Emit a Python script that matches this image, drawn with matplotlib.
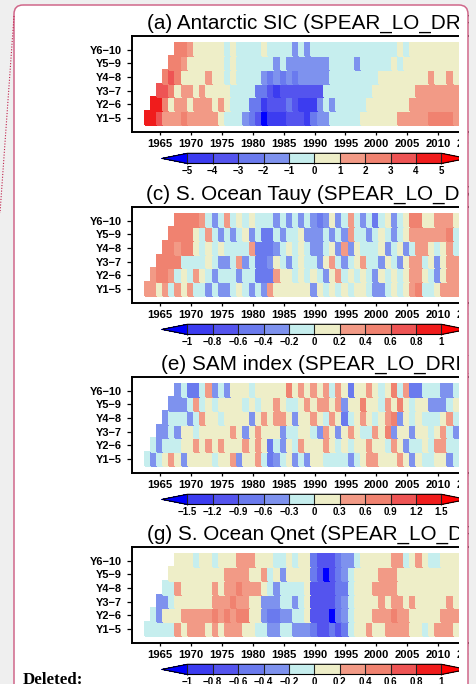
import matplotlib
matplotlib.use("Agg")
import matplotlib.pyplot as plt
import numpy as np
from matplotlib.colors import ListedColormap, BoundaryNorm
from matplotlib.patches import FancyBboxPatch, Rectangle

plt.rcParams["font.family"] = ["Liberation Sans", "DejaVu Sans"]

# ---------------------------------------------------------------- data
row_labels = ["Y1\u22125", "Y2\u22126", "Y3\u22127", "Y4\u22128", "Y5\u22129", "Y6\u221210"]
row_start = [1963, 1964, 1965, 1966, 1967, 1968]
year_ticks = list(range(1965, 2021, 5))

titles = [
    "(a) Antarctic SIC (SPEAR_LO_DRF)",
    "(c) S. Ocean Tauy (SPEAR_LO_DRF)",
    "(e) SAM index (SPEAR_LO_DRF)",
    "(g) S. Ocean Qnet (SPEAR_LO_DRF)",
]

sic_levels = [-5, -4, -3, -2, -1, 0, 1, 2, 3, 4, 5]
tauy_levels = [-1, -0.8, -0.6, -0.4, -0.2, 0, 0.2, 0.4, 0.6, 0.8, 1]
sam_levels = [-1.5, -1.2, -0.9, -0.6, -0.3, 0, 0.3, 0.6, 0.9, 1.2, 1.5]
qnet_levels = [-1, -0.8, -0.6, -0.4, -0.2, 0, 0.2, 0.4, 0.6, 0.8, 1]

# Antarctic SIC, rows Y1-5 ... Y6-10 (each row starts at row_start)
sic_y1 = [4.5, 4.5, 3.5, 1.5, 1.5, 1.5, 2.5, 1.5, 1.5, 1.5, 1.5, 1.5, 0.5, -0.5, -0.5, -0.5, -1.5,
          -2.5, -3.5, -5.5, -4.5, -4.5, -4.5, -3.5, -3.5, -3.5, -4.5, -2.5, -1.5, -1.5, -0.5, -0.5,
          -0.5, -0.5, -0.5, 0.5, 0.5, 0.5, 0.5, 0.5, 0.5, 1.5, 1.5, 1.5, 1.5, 1.5, 2.5, 2.5, 2.5,
          2.5, 1.5]
sic_y2 = [4.5, 4.5, 2.5, 0.5, 1.5, 1.5, 0.5, 1.5, 1.5, 1.5, 0.5, 1.5, 0.5, -0.5, -0.5, -0.5, -2.5,
          -2.5, -4.5, -3.5, -3.5, -3.5, -2.5, -3.5, -4.5, -4.5, -4.5, -1.5, -0.5, -1.5, -0.5, -0.5,
          -0.5, -0.5, -0.5, 0.5, 0.5, 0.5, 0.5, 0.5, 0.5, 0.5, 1.5, 1.5, 1.5, 1.5, 1.5, 1.5, 1.5,
          1.5]
sic_y3 = [3.5, 3.5, 2.5, 0.5, 1.5, 1.5, 0.5, 1.5, 0.5, 0.5, 0.5, 0.5, -0.5, -0.5, -0.5, -0.5, -2.5,
          -2.5, -3.5, -4.5, -3.5, -3.5, -3.5, -3.5, -3.5, -3.5, -3.5, -0.5, -0.5, -0.5, -0.5, -0.5,
          -0.5, -0.5, -0.5, 0.5, 0.5, 0.5, 0.5, 0.5, 0.5, 0.5, 1.5, 1.5, 1.5, 1.5, 1.5, 1.5, 1.5]
sic_y4 = [2.5, 3.5, 2.5, 0.5, 0.5, 0.5, 0.5, 1.5, 0.5, 0.5, -0.5, 0.5, -0.5, -0.5, -0.5, -0.5, -1.5,
          -2.5, -1.5, -2.5, -1.5, -2.5, -1.5, -1.5, -1.5, -1.5, -1.5, -0.5, -0.5, -0.5, -0.5, -0.5,
          -0.5, -0.5, -0.5, 0.5, 0.5, 0.5, 0.5, 0.5, 0.5, 0.5, 0.5, 1.5, 0.5, 0.5, 1.5, 0.5]
sic_y5 = [2.5, 2.5, 1.5, 0.5, 0.5, 0.5, 0.5, 0.5, 0.5, -0.5, 0.5, -0.5, -0.5, -0.5, -0.5, -0.5,
          -0.5, -1.5, -0.5, -1.5, -1.5, -1.5, -1.5, -1.5, -1.5, -1.5, -0.5, -0.5, -0.5, -0.5, -1.5,
          -0.5, -0.5, -0.5, -0.5, -0.5, 0.5, -0.5, 0.5, 0.5, 0.5, 0.5, 0.5, 0.5, 0.5, 0.5, 0.5]
sic_y6 = [2.5, 2.5, 1.5, 0.5, 0.5, 0.5, 0.5, 0.5, -0.5, 0.5, -0.5, -0.5, -0.5, -0.5, 0.5, -0.5,
          -0.5, -0.5, -0.5, -1.5, -0.5, -1.5, -0.5, -0.5, -0.5, -0.5, -0.5, -0.5, -0.5, -0.5, -0.5,
          -0.5, -0.5, -0.5, -0.5, -0.5, 0.5, -0.5, 0.5, 0.5, 0.5, 0.5, 0.5, 0.5, 0.5, 0.5]

# S. Ocean Tauy
tauy_y1 = [0.3, 0.3, 0.1, 0.3, -0.1, 0.3, 0.1, 0.3, -0.1, -0.1, -0.3, -0.1, -0.3, -0.3, -0.1, 0.1,
           -0.1, -0.3, -0.1, -0.3, 0.3, 0.1, 0.1, 0.1, 0.1, 0.1, 0.1, -0.3, 0.1, -0.1, 0.1, -0.1,
           0.1, -0.1, 0.1, 0.1, -0.1, -0.3, -0.3, -0.1, 0.1, -0.1, 0.1, 0.3, 0.5, -0.1, -0.1, 0.1,
           0.3, 0.3, 0.3]
tauy_y2 = [0.3, 0.5, 0.5, 0.3, -0.1, 0.1, -0.1, 0.3, 0.1, -0.1, -0.3, -0.1, -0.1, -0.1, -0.3, -0.1,
           -0.1, -0.5, -0.5, -0.5, 0.3, 0.1, 0.1, -0.1, 0.1, -0.1, 0.1, -0.1, -0.3, 0.1, 0.3, -0.1,
           0.1, -0.1, 0.1, -0.1, -0.3, 0.1, -0.1, 0.1, -0.1, 0.1, 0.3, 0.3, 0.1, -0.1, -0.3, 0.1,
           0.3, 0.3]
tauy_y3 = [0.5, 0.5, 0.5, 0.5, -0.1, -0.1, -0.1, -0.1, 0.1, -0.1, -0.3, -0.3, -0.1, 0.3, -0.3, -0.1,
           -0.5, -0.5, -0.3, 0.1, -0.1, -0.3, -0.1, 0.1, -0.1, -0.1, -0.3, 0.1, 0.3, -0.1, -0.3,
           -0.1, 0.1, 0.3, -0.1, -0.1, -0.3, 0.1, -0.1, -0.3, 0.1, 0.3, 0.3, -0.1, 0.1, -0.3, 0.1,
           0.3, 0.3]
tauy_y4 = [0.5, 0.5, 0.3, 0.5, 0.5, 0.1, -0.1, 0.1, -0.1, 0.1, -0.1, -0.1, -0.1, -0.1, 0.3, -0.5,
           -0.5, -0.5, -0.3, -0.1, 0.1, -0.1, 0.1, -0.1, -0.3, -0.3, -0.1, 0.1, -0.3, 0.3, -0.3,
           0.1, -0.1, -0.1, -0.1, 0.1, -0.3, -0.1, 0.1, -0.3, -0.1, 0.3, 0.3, 0.1, -0.1, 0.1, 0.3,
           -0.1]
tauy_y5 = [0.5, 0.5, 0.5, 0.5, 0.1, -0.1, 0.3, -0.1, -0.3, -0.1, -0.3, -0.1, 0.1, -0.3, -0.1, -0.5,
           -0.5, -0.1, -0.3, -0.1, -0.1, 0.1, -0.3, -0.3, -0.3, -0.1, -0.3, -0.1, -0.3, 0.3, -0.1,
           -0.1, -0.3, -0.1, 0.1, -0.1, -0.3, -0.1, 0.1, 0.3, 0.3, 0.3, 0.3, 0.3, 0.3, 0.5, -0.1]
tauy_y6 = [0.5, 0.5, 0.5, 0.5, 0.3, -0.1, -0.3, -0.1, 0.3, -0.1, 0.1, -0.1, 0.1, -0.1, -0.1, -0.1,
           -0.3, -0.1, -0.3, -0.1, -0.3, -0.1, -0.3, -0.5, -0.3, 0.1, -0.3, -0.1, 0.3, -0.1, -0.3,
           -0.1, -0.5, -0.1, 0.1, -0.3, -0.1, 0.1, 0.5, 0.5, 0.1, 0.1, 0.3, 0.3, 0.3, 0.1]

# SAM index
sam_y1 = [-0.15, -0.45, -0.15, 0.15, 0.45, 0.15, -0.45, 0.15, 0.15, 0.15, 0.15, -0.15, 0.15, 0.15,
          0.45, -0.45, 0.15, 0.15, 0.45, -0.15, -0.75, -0.45, -0.15, 0.15, -0.45, -0.15, -0.45,
          0.15, 0.15, -0.15, -0.15, -0.15, -0.15, -0.45, -0.15, 0.15, 0.45, 0.45, 0.15, 0.15,
          0.15, 0.45, 0.15, -0.45, 0.15, -0.15, -0.15, 0.15, 0.15, -0.45, -0.15]
sam_y2 = [-0.15, -0.45, -0.15, -0.15, -0.15, 0.15, 0.15, 0.45, 0.15, 0.45, 0.15, 0.45, 0.15, 0.15,
          0.15, 0.45, 0.15, 0.45, 0.15, -0.75, -0.15, -0.45, 0.15, -0.15, 0.45, 0.15, 0.15, 0.15,
          0.45, 0.15, -0.15, 0.15, -0.15, 0.15, 0.15, 0.45, 0.15, 0.15, -0.15, 0.45, 0.15, -0.45,
          -0.15, -0.15, 0.15, -0.15, 0.45, 0.45, -0.15, -0.15]
sam_y3 = [-0.45, -0.45, -0.15, -0.45, 0.15, 0.15, -0.15, 0.15, 0.15, 0.15, 0.15, 0.15, 0.45, 0.15,
          -0.45, 0.15, 0.45, 0.15, 0.15, 0.15, -0.45, -0.15, -0.15, 0.15, 0.15, -0.15, -0.45, 0.45,
          0.15, -0.45, 0.15, 0.45, 0.15, -0.15, -0.15, 0.45, 0.15, 0.75, -0.45, 0.15, 0.15, -0.45,
          0.15, 0.15, -0.15, 0.15, 0.45, -0.15, -0.45]
sam_y4 = [-0.45, -0.15, -0.15, -0.15, -0.45, -0.15, 0.45, 0.15, 0.15, -0.15, 0.15, 0.15, 0.15,
          0.15, -0.45, 0.15, 0.45, 0.15, 0.45, 0.45, 0.15, -0.45, 0.15, 0.15, 0.45, 0.15, -0.15,
          0.45, 0.15, -0.75, -0.15, 0.15, 0.45, 0.15, -0.15, 0.15, 0.45, 0.75, -0.45, 0.15, -0.15,
          0.15, -0.15, -0.15, -0.15, 0.15, 0.45, -0.15]
sam_y5 = [-0.45, -0.45, -0.45, -0.15, 0.45, -0.15, 0.15, -0.15, 0.15, 0.15, 0.15, 0.15, -0.15,
          0.15, -0.15, 0.15, 0.15, 0.45, 0.15, -0.15, -0.15, 0.15, 0.45, 0.15, 0.45, 0.45, 0.15,
          0.45, -0.45, 0.15, 0.15, 0.75, 0.15, 0.15, -0.15, 0.45, 0.15, 0.75, 0.15, -0.15, 0.15,
          0.15, -0.45, -0.45, -0.45, -0.15, 0.15]
sam_y6 = [-0.45, -0.15, -0.75, -0.75, -0.15, 0.45, -0.45, -0.15, -0.45, 0.15, 0.15, 0.15, -0.15,
          0.15, 0.15, 0.15, 0.15, 0.15, 0.75, 0.15, 0.45, 0.15, 0.45, 0.15, 0.45, -0.15, 0.45,
          0.15, -0.75, 0.15, 0.15, 0.45, 0.15, -0.15, 0.15, 0.75, -0.15, 0.45, -0.75, -0.75,
          -0.15, -0.15, -0.15, -0.45, -0.45, -0.15]

# S. Ocean Qnet
qnet_y1 = [-0.1, -0.1, -0.1, -0.1, -0.1, 0.3, 0.1, 0.3, 0.3, 0.3, 0.1, 0.3, 0.1, 0.3, 0.3, 0.3,
           0.1, 0.1, -0.1, -0.1, -0.3, -0.3, -0.1, -0.1, -0.3, -0.3, -0.3, -0.5, -0.7, -0.7, -0.5,
           -0.7, -0.5, -0.1, 0.1, 0.1, 0.3, 0.1, 0.1, 0.3, 0.3, 0.3, 0.3, 0.1, 0.1, -0.1, 0.1, 0.3,
           0.3, 0.3, 0.1]
qnet_y2 = [-0.1, -0.3, 0.1, 0.1, 0.1, 0.3, 0.3, 0.3, 0.3, 0.3, 0.5, 0.3, 0.5, 0.3, 0.5, 0.5, 0.1,
           0.1, -0.3, -0.5, -0.5, -0.3, -0.3, -0.1, -0.1, 0.1, -0.7, -0.7, -0.7, -1.1, -0.5, -0.3,
           -0.1, 0.1, 0.1, 0.1, 0.3, 0.3, 0.3, 0.5, 0.3, 0.3, 0.1, 0.1, 0.1, 0.1, 0.1, 0.3, 0.3,
           0.3]
qnet_y3 = [-0.3, -0.3, -0.1, 0.1, 0.1, 0.1, 0.1, 0.1, 0.1, 0.3, 0.3, 0.3, 0.5, 0.3, 0.3, 0.1, 0.1,
           -0.3, -0.3, -0.3, -0.1, -0.1, -0.3, -0.1, 0.1, -0.7, -0.7, -0.7, -0.7, -0.5, -0.3, -0.1,
           0.1, 0.1, 0.1, 0.1, 0.3, 0.1, 0.3, 0.3, 0.1, 0.3, 0.1, 0.1, 0.1, 0.1, 0.1, 0.3, 0.1]
qnet_y4 = [-0.1, -0.1, 0.3, 0.1, 0.1, 0.1, 0.1, 0.1, 0.3, 0.1, 0.3, 0.3, 0.5, 0.3, 0.3, 0.3, 0.1,
           -0.1, -0.3, -0.1, -0.1, -0.1, -0.1, 0.1, -0.7, -0.7, -0.7, -0.7, -0.5, -0.5, -0.1, 0.1,
           0.1, 0.1, 0.3, 0.3, 0.3, 0.3, 0.1, 0.1, 0.1, 0.1, 0.1, 0.1, 0.1, 0.1, 0.1, 0.1]
qnet_y5 = [0.1, 0.1, 0.1, 0.1, 0.1, 0.1, 0.1, 0.1, 0.1, 0.3, 0.3, 0.3, 0.3, 0.1, 0.1, 0.3, -0.1,
           0.1, -0.3, 0.1, 0.1, 0.1, 0.1, -0.5, -0.7, -1.1, -0.7, -0.5, -0.3, -0.1, 0.1, 0.1, 0.1,
           0.1, 0.3, 0.3, 0.3, 0.1, 0.1, 0.1, 0.1, 0.1, 0.1, 0.1, 0.1, 0.1, 0.1]
qnet_y6 = [0.1, 0.1, 0.1, -0.1, 0.1, 0.1, -0.1, 0.1, 0.1, 0.1, 0.3, 0.3, 0.3, 0.1, 0.1, 0.1, -0.1,
           -0.1, 0.1, -0.1, 0.1, 0.1, -0.5, -0.7, -0.7, -0.7, -0.5, -0.3, -0.3, -0.1, 0.1, 0.1,
           0.1, 0.1, 0.1, 0.3, 0.3, -0.1, 0.1, 0.3, 0.1, -0.1, -0.1, 0.1, 0.1, 0.1]

panels = [
    ([sic_y1, sic_y2, sic_y3, sic_y4, sic_y5, sic_y6], sic_levels),
    ([tauy_y1, tauy_y2, tauy_y3, tauy_y4, tauy_y5, tauy_y6], tauy_levels),
    ([sam_y1, sam_y2, sam_y3, sam_y4, sam_y5, sam_y6], sam_levels),
    ([qnet_y1, qnet_y2, qnet_y3, qnet_y4, qnet_y5, qnet_y6], qnet_levels),
]

# ---------------------------------------------------------------- style
bin_colors = ["#3c3cf0", "#5454ee", "#6a7aee", "#7e92ee", "#c6eeee",
              "#eeeec8", "#f29a86", "#f08270", "#ee5454", "#f01c1c"]
cmap = ListedColormap(bin_colors)
cmap.set_under("#0000ff")
cmap.set_over("#ff0000")

W, H = 476, 684
GRAY = "#efefef"
panel_tops = [36.0, 207.0, 377.0, 547.0]
title_x = [147.3, 146.0, 160.7, 146.7]
axes_h = 95.5
ax_left = 132.2
px_per_year = 6.18
x_lo, x_hi = 1960.5, 2020.5


def fx(x):
    return x / W


def fy(y):
    return 1 - y / H


def fmt(v):
    return f"{v:g}".replace("-", "\u2212")


fig = plt.figure(figsize=(W / 100, H / 100), dpi=100)
fig.patch.set_facecolor(GRAY)

# background layer in pixel coordinates (y measured from the top)
bg = fig.add_axes([0, 0, 1, 1], zorder=-5)
bg.set_axis_off()
bg.set_xlim(0, W)
bg.set_ylim(H, 0)
bg.add_patch(FancyBboxPatch((14, 5), 454, H + 30, boxstyle="round,pad=0,rounding_size=9",
                            facecolor="white", edgecolor="none"))

first_year = min(row_start)
n_years = 2013 - first_year + 1

for i, (rows, levels) in enumerate(panels):
    top = panel_tops[i]
    ax = fig.add_axes([fx(ax_left), fy(top + axes_h), (x_hi - x_lo) * px_per_year / W, axes_h / H])

    grid = np.full((6, n_years), np.nan)
    for r, (start, vals) in enumerate(zip(row_start, rows)):
        j = start - first_year
        grid[r, j:j + len(vals)] = vals
    xe = np.arange(first_year - 0.5, first_year + n_years, 1.0)
    ye = np.arange(-0.5, 6.0, 1.0)
    norm = BoundaryNorm(levels, cmap.N)
    mesh = ax.pcolormesh(xe, ye, np.ma.masked_invalid(grid), cmap=cmap, norm=norm,
                         edgecolors="face", linewidth=0.2)

    ax.set_xlim(x_lo, x_hi)
    ax.set_ylim(-1, 6)
    ax.set_yticks(range(6))
    ax.set_yticklabels(row_labels, fontsize=7.9, fontweight="bold")
    ax.set_xticks(year_ticks)
    ax.set_xticklabels([str(y) for y in year_ticks], fontsize=8.1, fontweight="bold")
    ax.tick_params(axis="y", direction="out", length=3.8, width=0.9, pad=3.4)
    ax.tick_params(axis="x", direction="out", length=2.5, width=0.9, pad=2.8)
    for s in ax.spines.values():
        s.set_linewidth(1.4)

    fig.text(fx(title_x[i]), fy(top - 7.7), titles[i], fontsize=14.9, ha="left", va="baseline")

    cax = fig.add_axes([fx(161.9), fy(top + 117.3 + 10.2), 305.0 / W, 10.2 / H])
    cb = fig.colorbar(mesh, cax=cax, orientation="horizontal", extend="both", extendfrac=0.1,
                      drawedges=True, ticks=levels)
    cb.outline.set_linewidth(0.8)
    cb.dividers.set_linewidth(0.8)
    cb.dividers.set_color("#222222")
    cax.set_xticklabels([fmt(v) for v in levels], fontsize=7.0, fontweight="bold")
    cax.tick_params(axis="x", length=0, pad=1.6)

# foreground layer: crop the page on the right, like the screenshot
fg = fig.add_axes([0, 0, 1, 1], zorder=50)
fg.set_axis_off()
fg.patch.set_alpha(0)
fg.set_xlim(0, W)
fg.set_ylim(H, 0)
fg.add_patch(Rectangle((459.2, 14), 8.6, H, facecolor="white", edgecolor="none"))
fg.add_patch(Rectangle((468.6, -5), 20, H + 10, facecolor=GRAY, edgecolor="none"))
fg.add_patch(FancyBboxPatch((14, 5), 454, H + 30, boxstyle="round,pad=0,rounding_size=9",
                            facecolor="none", edgecolor="#d0678a", linewidth=1.1))
# track-changes marker and label
fg.plot([14, 0], [16, 213], color="#c0204a", linewidth=0.8, linestyle=(0, (1, 1.5)))
fg.text(23, 684.5, "Deleted:", fontfamily=["Liberation Serif", "DejaVu Serif"],
        fontweight="bold", fontsize=12.2, ha="left", va="baseline")

fig.savefig("out.png", dpi=100)
